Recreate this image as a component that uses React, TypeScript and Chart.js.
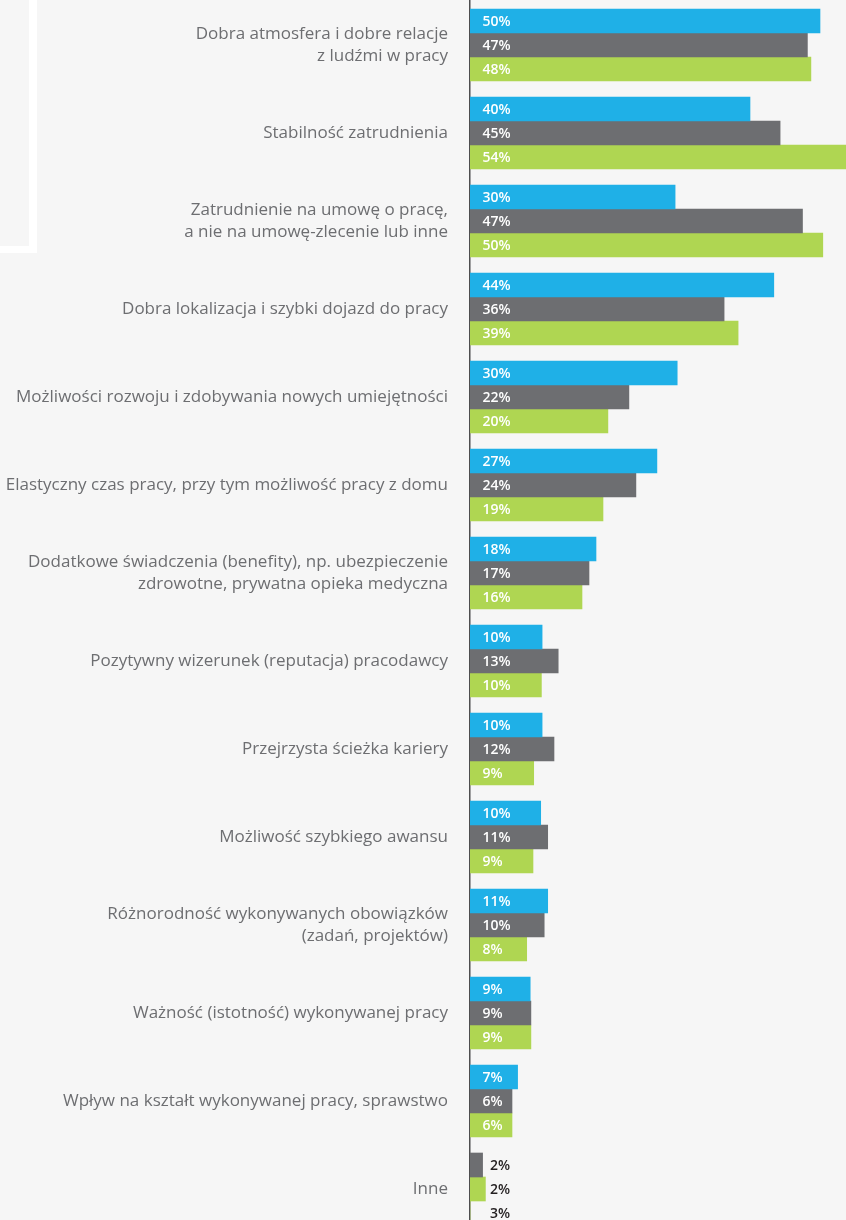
import React, { useEffect, useRef } from "react";
import { Chart, registerables } from "chart.js";

Chart.register(...registerables);

const categories: (string | string[])[] = [
  ["Dobra atmosfera i dobre relacje", "z ludźmi w pracy"],
  "Stabilność zatrudnienia",
  ["Zatrudnienie na umowę o pracę,", "a nie na umowę-zlecenie lub inne"],
  "Dobra lokalizacja i szybki dojazd do pracy",
  "Możliwości rozwoju i zdobywania nowych umiejętności",
  "Elastyczny czas pracy, przy tym możliwość pracy z domu",
  ["Dodatkowe świadczenia (benefity), np. ubezpieczenie", "zdrowotne, prywatna opieka medyczna"],
  "Pozytywny wizerunek (reputacja) pracodawcy",
  "Przejrzysta ścieżka kariery",
  "Możliwość szybkiego awansu",
  ["Różnorodność wykonywanych obowiązków", "(zadań, projektów)"],
  "Ważność (istotność) wykonywanej pracy",
  "Wpływ na kształt wykonywanej pracy, sprawstwo",
  "Inne",
];

// bar lengths as drawn (percent)
const blueValues = [50.0, 40.0, 29.3, 43.4, 29.6, 26.7, 18.0, 10.3, 10.3, 10.1, 11.1, 8.6, 6.8, 1.8];
const grayValues = [48.2, 44.3, 47.5, 36.3, 22.7, 23.7, 17.0, 12.6, 12.0, 11.1, 10.6, 8.7, 6.0, 2.2];
const greenValues = [48.7, 54.0, 50.4, 38.3, 19.7, 19.0, 16.0, 10.2, 9.1, 9.0, 8.1, 8.7, 6.0, 0];

// percentages printed on the bars
const blueShown = [50, 40, 30, 44, 30, 27, 18, 10, 10, 10, 11, 9, 7, 2];
const grayShown = [47, 45, 47, 36, 22, 24, 17, 13, 12, 11, 10, 9, 6, 2];
const greenShown = [48, 54, 50, 39, 20, 19, 16, 10, 9, 9, 8, 9, 6, 3];

const BLUE = "#1fb0e7";
const GRAY = "#6d6e71";
const GREEN = "#afd652";
const BG = "#f6f6f6";

// the last row ("Inne") shows the slots in shifted colours
const blueColors = categories.map((_, i) => (i === categories.length - 1 ? GRAY : BLUE));
const grayColors = categories.map((_, i) => (i === categories.length - 1 ? GREEN : GRAY));
const greenColors = categories.map(() => GREEN);

const shownSets = [blueShown, grayShown, greenShown];

const labelPlugin = {
  id: "valueLabels",
  afterDatasetsDraw(chart: any) {
    const ctx = chart.ctx;
    chart.data.datasets.forEach((_: any, di: number) => {
      const meta = chart.getDatasetMeta(di);
      const shown = shownSets[di];
      meta.data.forEach((bar: any, i: number) => {
        const { x, y, base } = bar.getProps(["x", "y", "base"], true);
        const inside = x - base >= 30;
        ctx.save();
        ctx.font = '600 14px "Open Sans"';
        ctx.fillStyle = inside ? "#ffffff" : "#231f20";
        ctx.textAlign = "left";
        ctx.textBaseline = "middle";
        ctx.fillText(shown[i] + "%", base + (inside ? 12.5 : 20), y + 1);
        ctx.restore();
      });
    });
  },
};

export default function App() {
  const ref = useRef<HTMLCanvasElement>(null);

  useEffect(() => {
    if (!ref.current) return;
    const chart = new Chart(ref.current, {
      type: "bar",
      data: {
        labels: categories,
        datasets: [
          { data: blueValues, backgroundColor: blueColors, barThickness: 24, categoryPercentage: 78 / 88 },
          { data: grayValues, backgroundColor: grayColors, barThickness: 24, categoryPercentage: 78 / 88 },
          { data: greenValues, backgroundColor: greenColors, barThickness: 24, categoryPercentage: 78 / 88 },
        ],
      },
      options: {
        indexAxis: "y",
        responsive: false,
        animation: false,
        layout: { padding: { top: 1, left: 0, right: 0, bottom: 0 } },
        plugins: { legend: { display: false }, tooltip: { enabled: false } },
        scales: {
          x: { display: false, min: 0, max: 376 / 7 },
          y: {
            afterFit: (scale: any) => {
              scale.width = 470;
              scale.paddingTop = 0;
              scale.paddingBottom = 0;
            },
            grid: { display: true, drawOnChartArea: false, drawTicks: false, color: "transparent" },
            border: { display: true, color: "#4d4d4f", width: 1.5 },
            ticks: {
              autoSkip: false,
              padding: 22,
              color: "#6d6e71",
              font: { family: '"Open Sans"', size: 17, weight: "400", lineHeight: 1.27 },
            },
          },
        },
      },
      plugins: [labelPlugin],
    });
    return () => chart.destroy();
  }, []);

  return (
    <div
      style={{
        position: "fixed",
        left: 0,
        top: 0,
        width: 846,
        height: 1220,
        overflow: "hidden",
        background: BG,
      }}
    >
      <div
        style={{
          position: "absolute",
          left: 0,
          top: 0,
          width: 29,
          height: 246,
          borderRight: "8px solid #ffffff",
          borderBottom: "7px solid #ffffff",
        }}
      />
      <canvas ref={ref} width={846} height={1233} style={{ position: "absolute", left: 0, top: 0, width: 846, height: 1233 }} />
    </div>
  );
}
